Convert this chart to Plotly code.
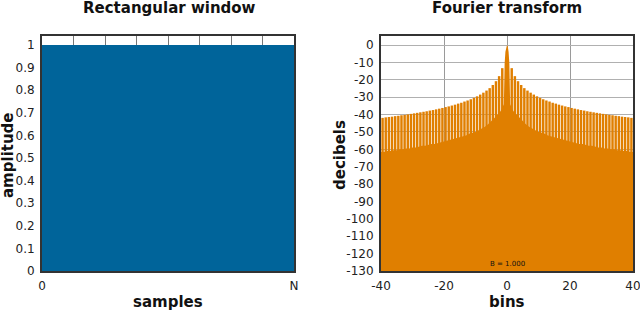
import plotly.graph_objects as go

# ---------------- data ----------------
# Rectangular window (left)
window_x = [0, 8]            # 0 .. N (N shown as 8 grid divisions)
window_y = [1.0, 1.0]
left_tickvals = [0, 1, 2, 3, 4, 5, 6, 7, 8]
left_ticktext = ["0", "", "", "", "", "", "", "", "N"]

# Fourier transform (right) tick labels (plain hyphen minus as in the reference)
db_tickvals = [0, -10, -20, -30, -40, -50, -60, -70, -80, -90, -100, -110, -120, -130]
db_ticktext = ["0", "-10", "-20", "-30", "-40", "-50", "-60", "-70", "-80", "-90",
               "-100", "-110", "-120", "-130"]
bin_tickvals = [-40, -20, 0, 20, 40]
bin_ticktext = ["-40", "-20", "0", "20", "40"]

# sidelobe peaks (dB) at +/- bin
sidelobe_bins = [1.5, 2.5, 3.5, 4.5, 5.5, 6.5, 7.5, 8.5, 9.5, 10.5,
                 11.5, 12.5, 13.5, 14.5, 15.5, 16.5, 17.5, 18.5, 19.5, 20.5,
                 21.5, 22.5, 23.5, 24.5, 25.5, 26.5, 27.5, 28.5, 29.5, 30.5,
                 31.5, 32.5, 33.5, 34.5, 35.5, 36.5, 37.5, 38.5, 39.5]
sidelobe_db = [-13.3, -17.9, -20.8, -23.0, -24.8, -26.2, -27.4, -28.5, -29.5, -30.4,
               -31.2, -31.9, -32.5, -33.2, -33.7, -34.3, -34.8, -35.3, -35.7, -36.2,
               -36.6, -37.0, -37.4, -37.7, -38.1, -38.4, -38.7, -39.0, -39.3, -39.6,
               -39.9, -40.2, -40.4, -40.7, -40.9, -41.2, -41.4, -41.6, -41.9]
# visible depth of the nulls between lobes (dB) at +/- bin
null_bins = [1, 2, 3, 4, 5, 6, 7, 8, 9, 10, 11, 12, 13, 14, 15, 16, 17, 18, 19, 20,
             21, 22, 23, 24, 25, 26, 27, 28, 29, 30, 31, 32, 33, 34, 35, 36, 37, 38, 39, 40]
null_db = [-34, -38, -40, -42, -44, -45.5, -47, -48, -49, -50,
           -50.5, -51, -52, -52.5, -53, -53.5, -54, -54.5, -55, -55.5,
           -56, -56.5, -57, -57, -57.5, -58, -58, -58.5, -59, -59,
           -59.5, -59.5, -60, -60, -60.5, -60.5, -61, -61, -61.5, -61.5]
# main lobe
mainlobe_x = [-0.9, -0.75, -0.5, -0.25, 0, 0.25, 0.5, 0.75, 0.9]
mainlobe_db = [-20.0, -10.5, -3.9, -0.9, 0.0, -0.9, -3.9, -10.5, -20.0]

FLOOR_DB = -130
bandwidth_label = "B = 1.000"

# ---------------- build ----------------
lobes_x = [-b for b in reversed(sidelobe_bins)] + sidelobe_bins
lobes_db = list(reversed(sidelobe_db)) + sidelobe_db
floor_x = [-z for z in reversed(null_bins)] + mainlobe_x + null_bins
floor_db = list(reversed(null_db)) + mainlobe_db + null_db

BLUE = "#00649a"
ORANGE = "#e07f00"
W, H = 640, 311


def px(x):
    return x / W


def py(y):
    return 1 - y / H


fig = go.Figure()

# left: rectangular window
fig.add_trace(go.Scatter(x=window_x, y=window_y, mode="lines", fill="tozeroy",
                         line=dict(color=BLUE, width=0), fillcolor=BLUE,
                         xaxis="x", yaxis="y", hoverinfo="skip", showlegend=False))

# right: baseline + floor + lobes
fig.add_trace(go.Scatter(x=[-40, 40], y=[FLOOR_DB, FLOOR_DB], mode="lines",
                         line=dict(width=0, color=ORANGE), xaxis="x2", yaxis="y2",
                         hoverinfo="skip", showlegend=False))
fig.add_trace(go.Scatter(x=floor_x, y=floor_db, mode="lines", fill="tonexty",
                         line=dict(width=0, color=ORANGE), fillcolor=ORANGE,
                         xaxis="x2", yaxis="y2", hoverinfo="skip", showlegend=False))
fig.add_trace(go.Bar(x=lobes_x, y=[d - FLOOR_DB for d in lobes_db], base=FLOOR_DB,
                     width=0.78, marker=dict(color=ORANGE, line=dict(width=0)),
                     xaxis="x2", yaxis="y2", hoverinfo="skip", showlegend=False))

ydom = [py(271), py(36)]
axis_common = dict(showline=True, mirror=True, linecolor="#333333", linewidth=2,
                   ticks="outside", ticklen=3, tickcolor="rgba(0,0,0,0)",
                   tickfont=dict(family="DejaVu Sans", size=12, color="#222222"),
                   zeroline=False, automargin=False, ticklabeloverflow="allow")

fig.update_layout(
    width=W, height=H,
    margin=dict(l=0, r=0, t=0, b=0),
    paper_bgcolor="white", plot_bgcolor="white",
    bargap=0.1,
    xaxis=dict(domain=[px(42), px(294)], range=[0, 8], tickmode="array",
               tickvals=left_tickvals, ticktext=left_ticktext,
               showgrid=True, gridcolor="#777777", gridwidth=1, anchor="y",
               **axis_common),
    yaxis=dict(domain=ydom, range=[0, 1.04], dtick=0.1, tick0=0,
               showgrid=True, gridcolor="#999999", anchor="x", **axis_common),
    xaxis2=dict(domain=[px(381), px(633)], range=[-40, 40], tickmode="array",
                tickvals=bin_tickvals, ticktext=bin_ticktext,
                showgrid=True, gridcolor="#9a9a9a", gridwidth=1, anchor="y2",
                **axis_common),
    yaxis2=dict(domain=ydom, range=[-130, 5.2], tickmode="array",
                tickvals=db_tickvals, ticktext=db_ticktext,
                showgrid=True, gridcolor="#b0b0b0", gridwidth=1, anchor="x2",
                **axis_common),
)

title_font = dict(family="DejaVu Sans", size=15, color="#111111")
ann = [
    dict(text="<b>Rectangular window</b>", x=px(169), y=py(8)),
    dict(text="<b>Fourier transform</b>", x=px(507), y=py(8)),
    dict(text="<b>samples</b>", x=px(168), y=py(302)),
    dict(text="<b>bins</b>", x=px(507), y=py(302)),
    dict(text="<b>amplitude</b>", x=px(8), y=py(155), textangle=-90),
    dict(text="<b>decibels</b>", x=px(340), y=py(155), textangle=-90),
]
for a in ann:
    fig.add_annotation(xref="paper", yref="paper", showarrow=False,
                       xanchor="center", yanchor="middle", font=title_font,
                       borderpad=0, **a)

fig.add_annotation(text=bandwidth_label, x=0, y=-126, xref="x2", yref="y2",
                   showarrow=False, xanchor="center", yanchor="middle",
                   font=dict(family="DejaVu Sans", size=7, color="#111111"))

fig.write_html("out.html",
               config={"displayModeBar": False},
               post_script="document.body.style.margin='0';"
                           "document.body.style.overflow='hidden';")
